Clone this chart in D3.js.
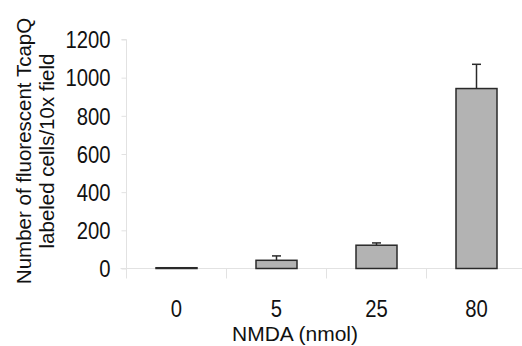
<!DOCTYPE html>
<html>
<head>
<meta charset="utf-8">
<script src="https://cdn.jsdelivr.net/npm/d3@7"></script>
<style>
  body { margin: 0; background: #fff; }
  svg { display: block; }
  text { font-family: "Liberation Sans", Arial, sans-serif; fill: #111; }
</style>
</head>
<body>
<svg id="chart" width="522" height="346"></svg>
<script>
// data
const doses = ["0", "5", "25", "80"];
const cellCounts = [4, 43, 122, 943];
const cellErrors = [0, 23, 12, 127];
const yTicks = [0, 200, 400, 600, 800, 1000, 1200];

const svg = d3.select("#chart");

const plotLeft = 126.5, plotRight = 526.5, plotTop = 39.5, plotBottom = 268.5;

const x = d3.scaleBand()
    .domain(doses)
    .range([plotLeft, plotRight])
    .paddingInner(0.59)
    .paddingOuter(0.295);

const y = d3.scaleLinear()
    .domain([0, 1200])
    .range([plotBottom, plotTop]);

// squeeze text a little horizontally, the figure uses a narrow face
function narrow(sel, f) {
    sel.each(function () {
        const w = this.getComputedTextLength();
        d3.select(this).attr("textLength", w * f).attr("lengthAdjust", "spacingAndGlyphs");
    });
}

// y axis
const yAxis = svg.append("g")
    .attr("transform", `translate(${plotLeft},0)`)
    .call(d3.axisLeft(y).tickValues(yTicks).tickFormat(d3.format("d")).tickSize(5).tickPadding(11));
yAxis.select(".domain").attr("stroke", "#e2e2e2").attr("d", `M-5,${plotTop}H0V${plotBottom + 9}`);
yAxis.selectAll(".tick line").attr("stroke", "#e2e2e2");
yAxis.attr("font-family", null).attr("font-size", null);
yAxis.selectAll(".tick text")
    .attr("font-size", 23)
    .attr("fill", "#111")
    .attr("dy", "0.36em")
    .call(narrow, 0.88);

// x axis: baseline plus tick marks between categories
svg.append("line")
    .attr("x1", plotLeft - 6).attr("x2", 522)
    .attr("y1", plotBottom).attr("y2", plotBottom)
    .attr("stroke", "#e2e2e2");

const bounds = doses.map(d => x(d) - x.step() * x.paddingOuter());
bounds.push(plotRight);
svg.append("g").selectAll("line")
    .data(bounds)
    .enter().append("line")
    .attr("x1", d => d).attr("x2", d => d)
    .attr("y1", plotBottom).attr("y2", plotBottom + 10)
    .attr("stroke", "#e2e2e2");

svg.append("g").selectAll("text")
    .data(doses)
    .enter().append("text")
    .attr("x", d => x(d) + x.bandwidth() / 2)
    .attr("y", 316.5)
    .attr("text-anchor", "middle")
    .attr("font-size", 23)
    .text(d => d)
    .call(narrow, 0.88);

// bars
svg.append("g").selectAll("rect")
    .data(doses)
    .enter().append("rect")
    .attr("x", d => x(d))
    .attr("width", x.bandwidth())
    .attr("y", (d, i) => y(cellCounts[i]))
    .attr("height", (d, i) => y(0) - y(cellCounts[i]))
    .attr("fill", "#b3b3b3")
    .attr("stroke", "#2a2a2a")
    .attr("stroke-width", 1.5);

// error bars (upper only)
const err = svg.append("g").attr("stroke", "#2a2a2a").attr("stroke-width", 1.5);
doses.forEach((d, i) => {
    if (!cellErrors[i]) return;
    const cx = x(d) + x.bandwidth() / 2;
    const yTop = y(cellCounts[i] + cellErrors[i]);
    err.append("line")
        .attr("x1", cx).attr("x2", cx)
        .attr("y1", y(cellCounts[i])).attr("y2", yTop);
    err.append("line")
        .attr("x1", cx - 4.5).attr("x2", cx + 4.5)
        .attr("y1", yTop).attr("y2", yTop);
});

// axis titles
svg.append("text")
    .attr("x", 295)
    .attr("y", 341)
    .attr("text-anchor", "middle")
    .attr("font-size", 21)
    .text("NMDA (nmol)");

const yTitle = svg.append("text")
    .attr("transform", "translate(31,151) rotate(-90)")
    .attr("text-anchor", "middle")
    .attr("font-size", 20.5);
yTitle.append("tspan").attr("x", 0).attr("y", 0).text("Number of fluorescent TcapQ");
yTitle.append("tspan").attr("x", 0).attr("y", 23).text("labeled cells/10x field");
</script>
</body>
</html>
